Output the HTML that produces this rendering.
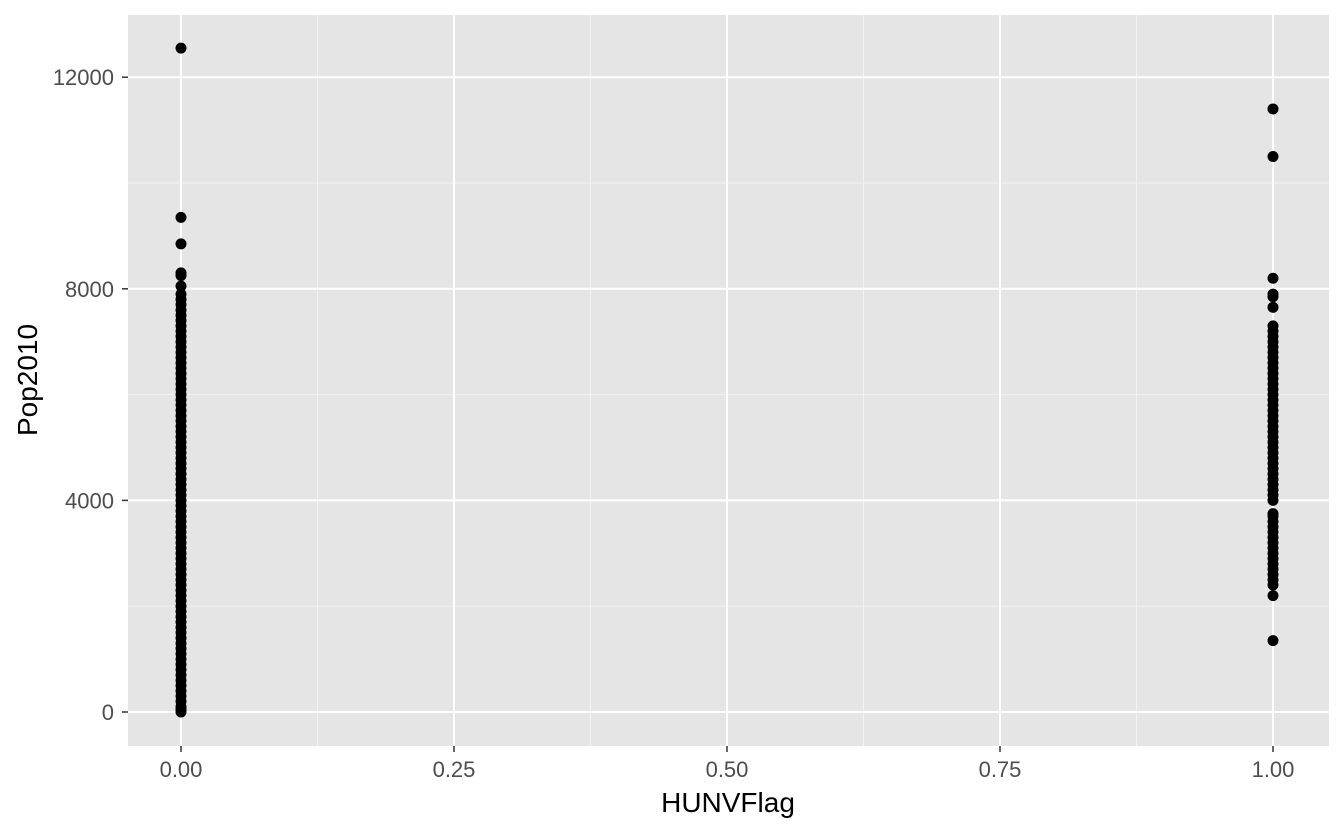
<!DOCTYPE html>
<html><head><meta charset="utf-8"><style>
body{margin:0;background:#fff;}
svg text{font-family:"Liberation Sans",Arial,sans-serif;}
</style></head><body>
<svg id="chart" width="1344" height="830">
<rect x="128" y="15" width="1201" height="731" fill="#e5e5e5"/>
<g id="grid"></g><g id="pts"></g><g id="axes"></g>
<text x="728" y="812" font-size="28" text-anchor="middle" fill="#000">HUNVFlag</text>
<text transform="translate(37,380) rotate(-90)" font-size="28" text-anchor="middle" fill="#000">Pop2010</text>
</svg>
<script>
const xTicks=[0,0.25,0.5,0.75,1];
const xTickLabels=["0.00","0.25","0.50","0.75","1.00"];
const yTicks=[0,4000,8000,12000];
const yTickLabels=["0","4000","8000","12000"];
const group0=[12550,9350,8850,8300,8250,8050,7900,7800,7700,7600,7500,7400,7300,7200,7100,7000,6900,6800,6700,6600,6500,6400,6300,6200,6100,6000,5900,5800,5700,5600,5500,5400,5300,5200,5100,5000,4900,4800,4700,4600,4500,4400,4300,4200,4100,4000,3900,3800,3700,3600,3500,3400,3300,3200,3100,3000,2900,2800,2700,2600,2500,2400,2300,2200,2100,2000,1900,1800,1700,1600,1500,1400,1300,1200,1100,1000,900,800,700,600,500,400,300,200,100,50,0];
const group1=[11400,10500,8200,7900,7850,7650,7300,7200,7100,7000,6900,6800,6700,6600,6500,6400,6300,6200,6100,6000,5900,5800,5700,5600,5500,5400,5300,5200,5100,5000,4900,4800,4700,4600,4500,4400,4300,4200,4100,4000,3750,3700,3600,3500,3400,3300,3200,3100,3000,2900,2800,2700,2600,2500,2400,2200,1350];
const ns="http://www.w3.org/2000/svg";
const X=v=>181+v*1092, Y=v=>712-v*0.0529;
const grid=document.getElementById('grid'),pts=document.getElementById('pts'),axes=document.getElementById('axes');
function mk(tag,attrs,parent){const e=document.createElementNS(ns,tag);for(const k in attrs)e.setAttribute(k,attrs[k]);parent.appendChild(e);return e;}
[2000,6000,10000].forEach(v=>{const l=mk('line',{x1:128,x2:1329,y1:Y(v),y2:Y(v),stroke:'#f2f2f2','stroke-width':1},grid);

});
[0.125,0.375,0.625,0.875].forEach(v=>{const l=mk('line',{x1:X(v),x2:X(v),y1:15,y2:746,stroke:'#f2f2f2','stroke-width':1},grid);

});
yTicks.forEach((v,i)=>{const l=mk('line',{x1:128,x2:1329,y1:Y(v),y2:Y(v),stroke:'#fff','stroke-width':2},grid);


const t=mk('line',{x1:122,x2:128,y1:Y(v),y2:Y(v),stroke:'#333','stroke-width':1.5},axes);


const tx=mk('text',{x:114,y:Y(v)+8,'font-size':22,'text-anchor':'end',fill:'#4d4d4d'},axes);tx.textContent=yTickLabels[i];

});
xTicks.forEach((v,i)=>{const l=mk('line',{x1:X(v),x2:X(v),y1:15,y2:746,stroke:'#fff','stroke-width':2},grid);


const t=mk('line',{x1:X(v),x2:X(v),y1:746,y2:752,stroke:'#333','stroke-width':1.5},axes);


const tx=mk('text',{x:X(v),y:777,'font-size':22,'text-anchor':'middle',fill:'#4d4d4d'},axes);tx.textContent=xTickLabels[i];

});
group0.forEach(v=>{const c=mk('circle',{cx:X(0),cy:Y(v),r:5.5,fill:'#000'},pts);

});
group1.forEach(v=>{const c=mk('circle',{cx:X(1),cy:Y(v),r:5.5,fill:'#000'},pts);

});
</script>
</body></html>
